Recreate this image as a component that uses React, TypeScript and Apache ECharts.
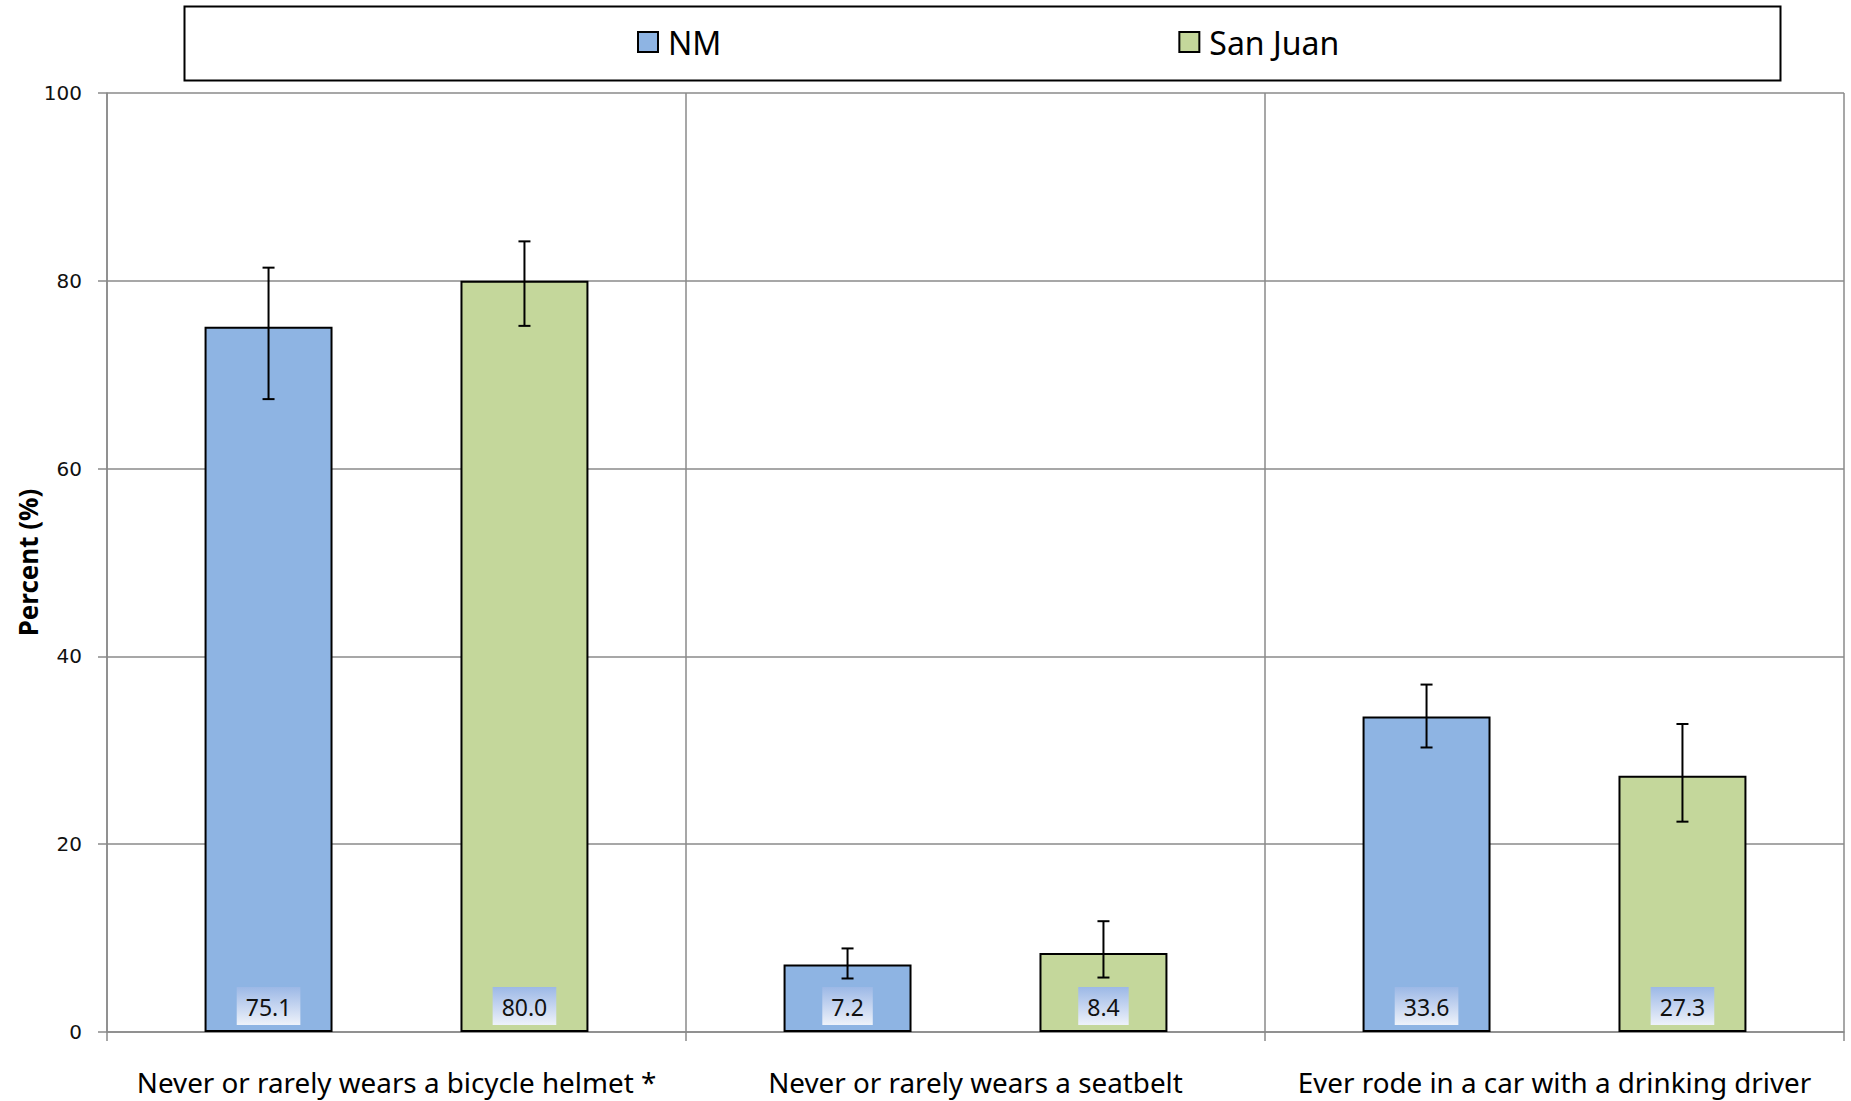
import React, { useEffect, useRef } from "react";
import * as echarts from "echarts";

const categories = [
  "Never or rarely wears a bicycle helmet *",
  "Never or rarely wears a seatbelt",
  "Ever rode in a car with a drinking driver",
];
const seriesNames = ["NM", "San Juan"];
const nmValues = [75.1, 7.2, 33.6];
const sjValues = [80.0, 8.4, 27.3];
const nmLow = [67.4, 5.7, 30.3];
const nmHigh = [81.4, 8.9, 37.0];
const sjLow = [75.2, 5.8, 22.4];
const sjHigh = [84.2, 11.8, 32.8];
const yTicks = { min: 0, max: 100, interval: 20 };

const NM_COLOR = "#8EB4E3";
const SJ_COLOR = "#C4D79B";
const GRID_COLOR = "#8a8a8a";
const CAT_GAP = 0.337;

function errorSeries(name: string, low: number[], high: number[], sign: number) {
  return {
    type: "custom",
    name: name + " err",
    z: 10,
    silent: true,
    data: low.map((l, i) => [i, l, high[i]]),
    renderItem: (params: any, api: any) => {
      const idx = api.value(0);
      const band = api.size([1, 0])[0];
      const barW = (band * (1 - CAT_GAP)) / 3;
      const cx = api.coord([idx, 0])[0] + sign * barW;
      const yl = api.coord([idx, api.value(1)])[1];
      const yh = api.coord([idx, api.value(2)])[1];
      const cap = 6;
      const style = { stroke: "#000", lineWidth: 2 };
      return {
        type: "group",
        children: [
          { type: "line", shape: { x1: cx, y1: yl, x2: cx, y2: yh }, style },
          { type: "line", shape: { x1: cx - cap, y1: yh, x2: cx + cap, y2: yh }, style },
          { type: "line", shape: { x1: cx - cap, y1: yl, x2: cx + cap, y2: yl }, style },
        ],
      };
    },
  };
}

const labelStyle = {
  show: true,
  position: "insideBottom",
  distance: 7,
  formatter: (p: any) => p.value.toFixed(1),
  fontFamily: "Noto Sans",
  fontSize: 23,
  color: "#111",
  padding: [8, 9, 7, 9],
  backgroundColor: new echarts.graphic.LinearGradient(0, 0, 0, 1, [
    { offset: 0, color: "#9cb8e6" },
    { offset: 1, color: "#eef2fa" },
  ]),
};

export default function App() {
  const ref = useRef<HTMLDivElement>(null);
  useEffect(() => {
    const chart = echarts.init(ref.current!, null, { renderer: "svg" });
    chart.setOption({
      animation: false,
      backgroundColor: "#fff",
      textStyle: { fontFamily: "Noto Sans" },
      grid: { left: 107, right: 7, top: 93, bottom: 69, containLabel: false },
      legend: {
        data: seriesNames,
        left: 632,
        top: 21,
        itemGap: 457,
        itemWidth: 20,
        itemHeight: 20,
        icon: "rect",
        textStyle: { fontFamily: "Noto Sans", fontSize: 32, color: "#000", padding: [0, 0, 0, 5] },
      },
      graphic: [
        {
          type: "rect",
          left: 182,
          top: 4,
          shape: { width: 1596, height: 74 },
          style: { fill: "none", stroke: "#000", lineWidth: 2 },
          z: -1,
        },
      ],
      xAxis: {
        type: "category",
        data: categories,
        axisLine: { lineStyle: { color: GRID_COLOR, width: 1.5 } },
        axisTick: { show: true, length: 9, lineStyle: { color: GRID_COLOR, width: 1.5 } },
        splitLine: { show: true, lineStyle: { color: GRID_COLOR, width: 1.5 } },
        axisLabel: { fontFamily: "Noto Sans", fontSize: 27.8, color: "#000", margin: 36, interval: 0 },
      },
      yAxis: {
        type: "value",
        min: yTicks.min,
        max: yTicks.max,
        interval: yTicks.interval,
        name: "Percent (%)",
        nameLocation: "middle",
        nameGap: 66,
        nameMoveOverlap: false,
        nameRotate: 90,
        nameTextStyle: { fontFamily: "Noto Sans", fontSize: 26, fontWeight: "bold", color: "#000" },
        axisLine: { show: true, lineStyle: { color: GRID_COLOR, width: 1.5 } },
        axisTick: { show: true, length: 9, lineStyle: { color: GRID_COLOR, width: 1.5 } },
        splitLine: { show: true, lineStyle: { color: GRID_COLOR, width: 1.5 } },
        axisLabel: { fontFamily: "DejaVu Sans", fontSize: 20, color: "#111", margin: 25 },
      },
      series: [
        {
          type: "bar",
          name: "NM",
          data: nmValues,
          barGap: "100%",
          barCategoryGap: (CAT_GAP * 100).toFixed(1) + "%",
          itemStyle: { color: NM_COLOR, borderColor: "#000", borderWidth: 2 },
          label: labelStyle,
        },
        {
          type: "bar",
          name: "San Juan",
          data: sjValues,
          barGap: "100%",
          barCategoryGap: (CAT_GAP * 100).toFixed(1) + "%",
          itemStyle: { color: SJ_COLOR, borderColor: "#000", borderWidth: 2 },
          label: labelStyle,
        },
        errorSeries("NM", nmLow, nmHigh, -1),
        errorSeries("San Juan", sjLow, sjHigh, 1),
      ],
    });
    return () => chart.dispose();
  }, []);
  return <div ref={ref} style={{ width: 1851, height: 1101, position: "absolute", left: 0, top: 0 }} />;
}
